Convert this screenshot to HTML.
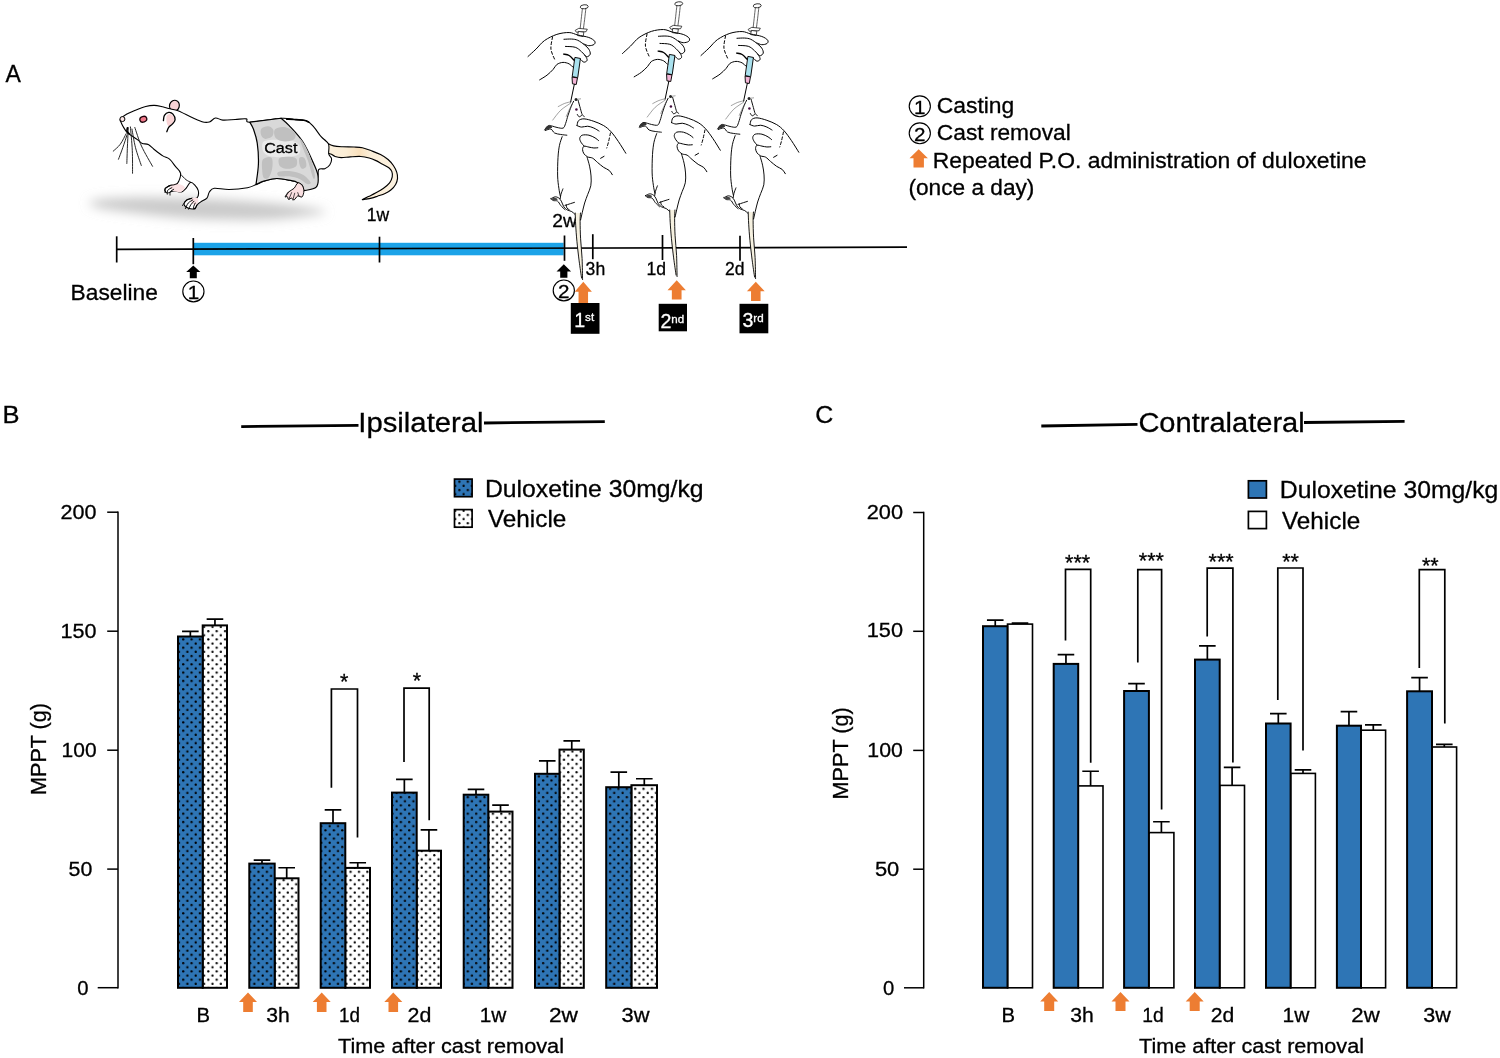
<!DOCTYPE html>
<html><head><meta charset="utf-8"><title>Figure</title>
<style>html,body{margin:0;padding:0;background:#fff}svg{display:block}</style></head>
<body>
<svg width="1500" height="1058" viewBox="0 0 1500 1058" font-family="'Liberation Sans', Arial, Helvetica, sans-serif" fill="#000" stroke-width="0">
<defs>
<pattern id="dots" x="206.2" y="629.03" width="8.37" height="8.3" patternUnits="userSpaceOnUse">
<circle cx="2.1" cy="2.07" r="1.15" fill="#000"/><circle cx="6.28" cy="6.22" r="1.15" fill="#000"/>
</pattern>
<filter id="blur" x="-20%" y="-60%" width="140%" height="220%"><feGaussianBlur stdDeviation="5.5"/></filter>
<filter id="soft" filterUnits="userSpaceOnUse" x="0" y="0" width="1500" height="1058"><feGaussianBlur stdDeviation="0.4"/></filter>
</defs>
<rect width="1500" height="1058" fill="#fff"/>
<g filter="url(#soft)">
<g stroke="#000" stroke-width="1.5" fill="none">
<path d="M118,511.45 V988.55"/>
<path d="M107.2,512.2 H118"/>
<path d="M107.2,631.2 H118"/>
<path d="M107.2,750.2 H118"/>
<path d="M107.2,869.1 H118"/>
<path d="M97.7,987.7 H118"/>
</g>
<text x="96.6" y="519" font-size="20.3" text-anchor="end" textLength="36" lengthAdjust="spacingAndGlyphs" stroke="#000" stroke-width="0.3">200</text>
<text x="96.6" y="638.2" font-size="20.3" text-anchor="end" textLength="36" lengthAdjust="spacingAndGlyphs" stroke="#000" stroke-width="0.3">150</text>
<text x="96.6" y="756.5" font-size="20.3" text-anchor="end" textLength="35" lengthAdjust="spacingAndGlyphs" stroke="#000" stroke-width="0.3">100</text>
<text x="92.3" y="875.6" font-size="20.3" text-anchor="end" textLength="23.8" lengthAdjust="spacingAndGlyphs" stroke="#000" stroke-width="0.3">50</text>
<text x="88.6" y="994.6" font-size="20.3" text-anchor="end" stroke="#000" stroke-width="0.3">0</text>
<path d="M190.35,636.5 V631.45 M182.05,631.45 H198.65" stroke="#000" stroke-width="1.7" fill="none"/>
<path d="M214.95,625.4 V619.05 M206.65,619.05 H223.25" stroke="#000" stroke-width="1.7" fill="none"/>
<rect x="202.7" y="625.4" width="24.3" height="362.4" fill="#fff" stroke="none"/>
<rect x="202.7" y="625.4" width="24.3" height="362.4" fill="url(#dots)"/>
<rect x="202.7" y="625.4" width="24.3" height="362.4" fill="none" stroke="#000" stroke-width="2"/>
<rect x="178" y="636.5" width="24.7" height="351.3" fill="#2E74B5"/>
<rect x="178" y="636.5" width="24.7" height="351.3" fill="url(#dots)"/>
<rect x="178" y="636.5" width="24.7" height="351.3" fill="none" stroke="#000" stroke-width="2"/>
<path d="M262,863.6 V860.05 M253.7,860.05 H270.3" stroke="#000" stroke-width="1.7" fill="none"/>
<path d="M286.7,878.3 V867.75 M278.4,867.75 H295" stroke="#000" stroke-width="1.7" fill="none"/>
<rect x="274.7" y="878.3" width="23.8" height="109.5" fill="#fff" stroke="none"/>
<rect x="274.7" y="878.3" width="23.8" height="109.5" fill="url(#dots)"/>
<rect x="274.7" y="878.3" width="23.8" height="109.5" fill="none" stroke="#000" stroke-width="2"/>
<rect x="249.3" y="863.6" width="25.4" height="124.2" fill="#2E74B5"/>
<rect x="249.3" y="863.6" width="25.4" height="124.2" fill="url(#dots)"/>
<rect x="249.3" y="863.6" width="25.4" height="124.2" fill="none" stroke="#000" stroke-width="2"/>
<path d="M333,823.2 V809.85 M324.7,809.85 H341.3" stroke="#000" stroke-width="1.7" fill="none"/>
<path d="M357.75,867.9 V862.75 M349.45,862.75 H366.05" stroke="#000" stroke-width="1.7" fill="none"/>
<rect x="345.3" y="867.9" width="24.7" height="119.9" fill="#fff" stroke="none"/>
<rect x="345.3" y="867.9" width="24.7" height="119.9" fill="url(#dots)"/>
<rect x="345.3" y="867.9" width="24.7" height="119.9" fill="none" stroke="#000" stroke-width="2"/>
<rect x="320.7" y="823.2" width="24.6" height="164.6" fill="#2E74B5"/>
<rect x="320.7" y="823.2" width="24.6" height="164.6" fill="url(#dots)"/>
<rect x="320.7" y="823.2" width="24.6" height="164.6" fill="none" stroke="#000" stroke-width="2"/>
<path d="M404.35,792.6 V779.45 M396.05,779.45 H412.65" stroke="#000" stroke-width="1.7" fill="none"/>
<path d="M428.95,850.7 V829.85 M420.65,829.85 H437.25" stroke="#000" stroke-width="1.7" fill="none"/>
<rect x="416.7" y="850.7" width="24.3" height="137.1" fill="#fff" stroke="none"/>
<rect x="416.7" y="850.7" width="24.3" height="137.1" fill="url(#dots)"/>
<rect x="416.7" y="850.7" width="24.3" height="137.1" fill="none" stroke="#000" stroke-width="2"/>
<rect x="392" y="792.6" width="24.7" height="195.2" fill="#2E74B5"/>
<rect x="392" y="792.6" width="24.7" height="195.2" fill="url(#dots)"/>
<rect x="392" y="792.6" width="24.7" height="195.2" fill="none" stroke="#000" stroke-width="2"/>
<path d="M476,794.7 V789.45 M467.7,789.45 H484.3" stroke="#000" stroke-width="1.7" fill="none"/>
<path d="M500.5,811.6 V805.05 M492.2,805.05 H508.8" stroke="#000" stroke-width="1.7" fill="none"/>
<rect x="488.3" y="811.6" width="24.2" height="176.2" fill="#fff" stroke="none"/>
<rect x="488.3" y="811.6" width="24.2" height="176.2" fill="url(#dots)"/>
<rect x="488.3" y="811.6" width="24.2" height="176.2" fill="none" stroke="#000" stroke-width="2"/>
<rect x="463.7" y="794.7" width="24.6" height="193.1" fill="#2E74B5"/>
<rect x="463.7" y="794.7" width="24.6" height="193.1" fill="url(#dots)"/>
<rect x="463.7" y="794.7" width="24.6" height="193.1" fill="none" stroke="#000" stroke-width="2"/>
<path d="M547.25,773.8 V760.85 M538.95,760.85 H555.55" stroke="#000" stroke-width="1.7" fill="none"/>
<path d="M571.75,749.6 V740.85 M563.45,740.85 H580.05" stroke="#000" stroke-width="1.7" fill="none"/>
<rect x="559.5" y="749.6" width="24.3" height="238.2" fill="#fff" stroke="none"/>
<rect x="559.5" y="749.6" width="24.3" height="238.2" fill="url(#dots)"/>
<rect x="559.5" y="749.6" width="24.3" height="238.2" fill="none" stroke="#000" stroke-width="2"/>
<rect x="535" y="773.8" width="24.5" height="214" fill="#2E74B5"/>
<rect x="535" y="773.8" width="24.5" height="214" fill="url(#dots)"/>
<rect x="535" y="773.8" width="24.5" height="214" fill="none" stroke="#000" stroke-width="2"/>
<path d="M618.8,787.2 V772.15 M610.5,772.15 H627.1" stroke="#000" stroke-width="1.7" fill="none"/>
<path d="M644.3,785.2 V778.75 M636,778.75 H652.6" stroke="#000" stroke-width="1.7" fill="none"/>
<rect x="631.4" y="785.2" width="25.6" height="202.6" fill="#fff" stroke="none"/>
<rect x="631.4" y="785.2" width="25.6" height="202.6" fill="url(#dots)"/>
<rect x="631.4" y="785.2" width="25.6" height="202.6" fill="none" stroke="#000" stroke-width="2"/>
<rect x="606.2" y="787.2" width="25.2" height="200.6" fill="#2E74B5"/>
<rect x="606.2" y="787.2" width="25.2" height="200.6" fill="url(#dots)"/>
<rect x="606.2" y="787.2" width="25.2" height="200.6" fill="none" stroke="#000" stroke-width="2"/>
<path d="M331.4,787.7 V689 H357.5 V837.4" stroke="#000" stroke-width="1.7" fill="none"/>
<text x="344.1" y="689.4" font-size="21.5" text-anchor="middle" stroke="#000" stroke-width="0.3">*</text>
<path d="M404,762 V688.1 H429.2 V820.2" stroke="#000" stroke-width="1.7" fill="none"/>
<text x="417" y="688.4" font-size="21.5" text-anchor="middle" stroke="#000" stroke-width="0.3">*</text>
<text x="203.3" y="1022" font-size="20.3" text-anchor="middle" stroke="#000" stroke-width="0.3">B</text>
<text x="278" y="1022" font-size="20.3" text-anchor="middle" textLength="23.5" lengthAdjust="spacingAndGlyphs" stroke="#000" stroke-width="0.3">3h</text>
<text x="349.6" y="1022" font-size="20.3" text-anchor="middle" textLength="21" lengthAdjust="spacingAndGlyphs" stroke="#000" stroke-width="0.3">1d</text>
<text x="419.4" y="1022" font-size="20.3" text-anchor="middle" textLength="23.8" lengthAdjust="spacingAndGlyphs" stroke="#000" stroke-width="0.3">2d</text>
<text x="493" y="1022" font-size="20.3" text-anchor="middle" textLength="26.6" lengthAdjust="spacingAndGlyphs" stroke="#000" stroke-width="0.3">1w</text>
<text x="563.4" y="1022" font-size="20.3" text-anchor="middle" textLength="29" lengthAdjust="spacingAndGlyphs" stroke="#000" stroke-width="0.3">2w</text>
<text x="635.6" y="1022" font-size="20.3" text-anchor="middle" textLength="28" lengthAdjust="spacingAndGlyphs" stroke="#000" stroke-width="0.3">3w</text>
<text x="338" y="1052.5" font-size="20" textLength="226" lengthAdjust="spacingAndGlyphs" stroke="#000" stroke-width="0.3">Time after cast removal</text>
<polygon points="248,992.6 257,1002 252.8,1002 252.8,1012 243.2,1012 243.2,1002 239,1002" fill="#ED7D31"/>
<polygon points="321.7,992.6 330.7,1002 326.5,1002 326.5,1012 316.9,1012 316.9,1002 312.7,1002" fill="#ED7D31"/>
<polygon points="393.3,992.6 402.3,1002 398.1,1002 398.1,1012 388.5,1012 388.5,1002 384.3,1002" fill="#ED7D31"/>
<text transform="translate(45.8,795) rotate(-90)" font-size="21.4" textLength="92" lengthAdjust="spacingAndGlyphs" stroke="#000" stroke-width="0.3">MPPT (g)</text>
<text x="358.3" y="431.8" font-size="28.4" textLength="125.3" lengthAdjust="spacingAndGlyphs" stroke="#000" stroke-width="0.3">Ipsilateral</text>
<path d="M241.2,426.6 L358.5,425.3 M484,423 L604.8,421.7" stroke="#000" stroke-width="2.8" fill="none"/>
<text x="2.4" y="422.8" font-size="23.2" textLength="17" lengthAdjust="spacingAndGlyphs" stroke="#000" stroke-width="0.3">B</text>
<rect x="454.5" y="479.1" width="17.6" height="17.6" fill="#2E74B5"/><rect x="454.5" y="479.1" width="17.6" height="17.6" fill="url(#dots)"/><rect x="454.5" y="479.1" width="17.6" height="17.6" fill="none" stroke="#000" stroke-width="1.7"/>
<rect x="454.5" y="509.6" width="17.6" height="17.6" fill="#fff"/><rect x="454.5" y="509.6" width="17.6" height="17.6" fill="url(#dots)"/><rect x="454.5" y="509.6" width="17.6" height="17.6" fill="none" stroke="#000" stroke-width="1.7"/>
<text x="485" y="496.6" font-size="23.2" textLength="218.5" lengthAdjust="spacingAndGlyphs" stroke="#000" stroke-width="0.3">Duloxetine 30mg/kg</text>
<text x="488" y="527.2" font-size="23.2" textLength="78.3" lengthAdjust="spacingAndGlyphs" stroke="#000" stroke-width="0.3">Vehicle</text>
<g stroke="#000" stroke-width="1.5" fill="none">
<path d="M923.7,511.75 V988.55"/>
<path d="M913.2,512.5 H923.7"/>
<path d="M913.2,631.3 H923.7"/>
<path d="M913.2,750.4 H923.7"/>
<path d="M913.2,869.2 H923.7"/>
<path d="M904,987.8 H923.7"/>
</g>
<text x="903" y="518.6" font-size="20.3" text-anchor="end" textLength="36.3" lengthAdjust="spacingAndGlyphs" stroke="#000" stroke-width="0.3">200</text>
<text x="903" y="637" font-size="20.3" text-anchor="end" textLength="36.3" lengthAdjust="spacingAndGlyphs" stroke="#000" stroke-width="0.3">150</text>
<text x="902.8" y="756.5" font-size="20.3" text-anchor="end" textLength="35.5" lengthAdjust="spacingAndGlyphs" stroke="#000" stroke-width="0.3">100</text>
<text x="899.3" y="875.6" font-size="20.3" text-anchor="end" textLength="24.4" lengthAdjust="spacingAndGlyphs" stroke="#000" stroke-width="0.3">50</text>
<text x="894.3" y="994.6" font-size="20.3" text-anchor="end" stroke="#000" stroke-width="0.3">0</text>
<path d="M995.25,626.2 V620.05 M986.95,620.05 H1003.55" stroke="#000" stroke-width="1.7" fill="none"/>
<path d="M1020,624.3 V623.15 M1011.7,623.15 H1028.3" stroke="#000" stroke-width="1.7" fill="none"/>
<rect x="1007.5" y="624.1" width="25" height="363.7" fill="#fff" stroke="none"/>
<rect x="1007.5" y="624.1" width="25" height="363.7" fill="none" stroke="#000" stroke-width="1.6"/>
<rect x="983" y="626.2" width="24.5" height="361.6" fill="#2E74B5"/>
<rect x="983" y="626.2" width="24.5" height="361.6" fill="none" stroke="#000" stroke-width="2"/>
<path d="M1065.95,663.9 V654.65 M1057.65,654.65 H1074.25" stroke="#000" stroke-width="1.7" fill="none"/>
<path d="M1090.6,786.1 V771.25 M1082.3,771.25 H1098.9" stroke="#000" stroke-width="1.7" fill="none"/>
<rect x="1078.2" y="785.9" width="24.8" height="201.9" fill="#fff" stroke="none"/>
<rect x="1078.2" y="785.9" width="24.8" height="201.9" fill="none" stroke="#000" stroke-width="1.6"/>
<rect x="1053.7" y="663.9" width="24.5" height="323.9" fill="#2E74B5"/>
<rect x="1053.7" y="663.9" width="24.5" height="323.9" fill="none" stroke="#000" stroke-width="2"/>
<path d="M1136.5,691 V683.65 M1128.2,683.65 H1144.8" stroke="#000" stroke-width="1.7" fill="none"/>
<path d="M1161.4,832.8 V821.75 M1153.1,821.75 H1169.7" stroke="#000" stroke-width="1.7" fill="none"/>
<rect x="1148.9" y="832.6" width="25" height="155.2" fill="#fff" stroke="none"/>
<rect x="1148.9" y="832.6" width="25" height="155.2" fill="none" stroke="#000" stroke-width="1.6"/>
<rect x="1124.1" y="691" width="24.8" height="296.8" fill="#2E74B5"/>
<rect x="1124.1" y="691" width="24.8" height="296.8" fill="none" stroke="#000" stroke-width="2"/>
<path d="M1207.35,659.6 V645.85 M1199.05,645.85 H1215.65" stroke="#000" stroke-width="1.7" fill="none"/>
<path d="M1232.1,785.6 V767.45 M1223.8,767.45 H1240.4" stroke="#000" stroke-width="1.7" fill="none"/>
<rect x="1219.7" y="785.4" width="24.8" height="202.4" fill="#fff" stroke="none"/>
<rect x="1219.7" y="785.4" width="24.8" height="202.4" fill="none" stroke="#000" stroke-width="1.6"/>
<rect x="1195" y="659.6" width="24.7" height="328.2" fill="#2E74B5"/>
<rect x="1195" y="659.6" width="24.7" height="328.2" fill="none" stroke="#000" stroke-width="2"/>
<path d="M1278.3,723.5 V713.55 M1270,713.55 H1286.6" stroke="#000" stroke-width="1.7" fill="none"/>
<path d="M1303,773.6 V769.85 M1294.7,769.85 H1311.3" stroke="#000" stroke-width="1.7" fill="none"/>
<rect x="1290.6" y="773.4" width="24.8" height="214.4" fill="#fff" stroke="none"/>
<rect x="1290.6" y="773.4" width="24.8" height="214.4" fill="none" stroke="#000" stroke-width="1.6"/>
<rect x="1266" y="723.5" width="24.6" height="264.3" fill="#2E74B5"/>
<rect x="1266" y="723.5" width="24.6" height="264.3" fill="none" stroke="#000" stroke-width="2"/>
<path d="M1348.95,725.7 V711.65 M1340.65,711.65 H1357.25" stroke="#000" stroke-width="1.7" fill="none"/>
<path d="M1373.3,730.4 V724.85 M1365,724.85 H1381.6" stroke="#000" stroke-width="1.7" fill="none"/>
<rect x="1361" y="730.2" width="24.6" height="257.6" fill="#fff" stroke="none"/>
<rect x="1361" y="730.2" width="24.6" height="257.6" fill="none" stroke="#000" stroke-width="1.6"/>
<rect x="1336.9" y="725.7" width="24.1" height="262.1" fill="#2E74B5"/>
<rect x="1336.9" y="725.7" width="24.1" height="262.1" fill="none" stroke="#000" stroke-width="2"/>
<path d="M1419.55,691.3 V677.55 M1411.25,677.55 H1427.85" stroke="#000" stroke-width="1.7" fill="none"/>
<path d="M1444.3,747.2 V744.35 M1436,744.35 H1452.6" stroke="#000" stroke-width="1.7" fill="none"/>
<rect x="1432" y="747" width="24.6" height="240.8" fill="#fff" stroke="none"/>
<rect x="1432" y="747" width="24.6" height="240.8" fill="none" stroke="#000" stroke-width="1.6"/>
<rect x="1407.1" y="691.3" width="24.9" height="296.5" fill="#2E74B5"/>
<rect x="1407.1" y="691.3" width="24.9" height="296.5" fill="none" stroke="#000" stroke-width="2"/>
<path d="M1065.5,640.4 V569.3 H1090.7 V762.8" stroke="#000" stroke-width="1.7" fill="none"/>
<text x="1077.6" y="570.4" font-size="21.5" text-anchor="middle" stroke="#000" stroke-width="0.3">***</text>
<path d="M1137.8,662.5 V569.7 H1161.6 V809.5" stroke="#000" stroke-width="1.7" fill="none"/>
<text x="1151.4" y="567.8" font-size="21.5" text-anchor="middle" stroke="#000" stroke-width="0.3">***</text>
<path d="M1207.2,636.4 V568.2 H1232.9 V762.4" stroke="#000" stroke-width="1.7" fill="none"/>
<text x="1221.1" y="569.2" font-size="21.5" text-anchor="middle" stroke="#000" stroke-width="0.3">***</text>
<path d="M1277.8,700 V568 H1303 V750.5" stroke="#000" stroke-width="1.7" fill="none"/>
<text x="1290.6" y="569.2" font-size="21.5" text-anchor="middle" stroke="#000" stroke-width="0.3">**</text>
<path d="M1419.3,668 V569.7 H1444.8 V723.6" stroke="#000" stroke-width="1.7" fill="none"/>
<text x="1430.3" y="572.5" font-size="21.5" text-anchor="middle" stroke="#000" stroke-width="0.3">**</text>
<text x="1008.3" y="1022" font-size="20.3" text-anchor="middle" stroke="#000" stroke-width="0.3">B</text>
<text x="1082" y="1022" font-size="20.3" text-anchor="middle" textLength="23.5" lengthAdjust="spacingAndGlyphs" stroke="#000" stroke-width="0.3">3h</text>
<text x="1153" y="1022" font-size="20.3" text-anchor="middle" textLength="21.5" lengthAdjust="spacingAndGlyphs" stroke="#000" stroke-width="0.3">1d</text>
<text x="1222.5" y="1022" font-size="20.3" text-anchor="middle" textLength="23.5" lengthAdjust="spacingAndGlyphs" stroke="#000" stroke-width="0.3">2d</text>
<text x="1296" y="1022" font-size="20.3" text-anchor="middle" textLength="26.8" lengthAdjust="spacingAndGlyphs" stroke="#000" stroke-width="0.3">1w</text>
<text x="1365.5" y="1022" font-size="20.3" text-anchor="middle" textLength="28.4" lengthAdjust="spacingAndGlyphs" stroke="#000" stroke-width="0.3">2w</text>
<text x="1437" y="1022" font-size="20.3" text-anchor="middle" textLength="27.5" lengthAdjust="spacingAndGlyphs" stroke="#000" stroke-width="0.3">3w</text>
<text x="1139" y="1052.5" font-size="20" textLength="225" lengthAdjust="spacingAndGlyphs" stroke="#000" stroke-width="0.3">Time after cast removal</text>
<polygon points="1049.2,992 1058.2,1001.4 1054.2,1001.4 1054.2,1010.9 1044.2,1010.9 1044.2,1001.4 1040.2,1001.4" fill="#ED7D31"/>
<polygon points="1120.5,992 1129.5,1001.4 1125.5,1001.4 1125.5,1010.9 1115.5,1010.9 1115.5,1001.4 1111.5,1001.4" fill="#ED7D31"/>
<polygon points="1194.7,992 1203.7,1001.4 1199.7,1001.4 1199.7,1010.9 1189.7,1010.9 1189.7,1001.4 1185.7,1001.4" fill="#ED7D31"/>
<text transform="translate(847.9,799.4) rotate(-90)" font-size="21.4" textLength="92" lengthAdjust="spacingAndGlyphs" stroke="#000" stroke-width="0.3">MPPT (g)</text>
<text x="1138.4" y="431.6" font-size="28.4" textLength="166.3" lengthAdjust="spacingAndGlyphs" stroke="#000" stroke-width="0.3">Contralateral</text>
<path d="M1041.3,426 L1137.5,424.3 M1304,422.5 L1404.6,421.3" stroke="#000" stroke-width="2.8" fill="none"/>
<text x="815.2" y="423" font-size="23" textLength="18" lengthAdjust="spacingAndGlyphs" stroke="#000" stroke-width="0.3">C</text>
<rect x="1248.4" y="480.8" width="18" height="17.2" fill="#2E74B5" stroke="#000" stroke-width="1.7"/>
<rect x="1248.4" y="511.4" width="18" height="17.2" fill="#fff" stroke="#000" stroke-width="1.7"/>
<text x="1279.8" y="498.3" font-size="23.2" textLength="218.5" lengthAdjust="spacingAndGlyphs" stroke="#000" stroke-width="0.3">Duloxetine 30mg/kg</text>
<text x="1282" y="528.6" font-size="23.2" textLength="78.3" lengthAdjust="spacingAndGlyphs" stroke="#000" stroke-width="0.3">Vehicle</text>
<text x="5.5" y="81.7" font-size="23" stroke="#000" stroke-width="0.3">A</text>
<path d="M92,201 C97.67,199.42 112,197.92 130,197.5 C148,197.08 178.33,197.75 200,198.5 C221.67,199.25 242.5,200.58 260,202 C277.5,203.42 294,205.33 305,207 C316,208.67 326,210.5 326,212 C326,213.5 316,214.67 305,216 C294,217.33 279.17,219.58 260,220 C240.83,220.42 211.67,219.75 190,218.5 C168.33,217.25 145.67,214.42 130,212.5 C114.33,210.58 102.33,208.92 96,207 C89.67,205.08 86.33,202.58 92,201Z" fill="#cacaca" filter="url(#blur)"/>
<defs><linearGradient id="tailg" x1="0" x2="1" y1="0" y2="0"><stop offset="0" stop-color="#FCF2E0"/><stop offset="0.3" stop-color="#FBEDD5"/><stop offset="0.48" stop-color="#F9E0BC"/><stop offset="0.62" stop-color="#FBEED8"/><stop offset="1" stop-color="#FCF2E1"/></linearGradient></defs>
<path d="M324.54,140.59 C324.79,139.01 326.05,142.36 327.56,143.24 C329.08,144.12 331.09,145.29 333.62,145.89 C336.14,146.48 339.29,146.6 342.69,146.79 C346.1,146.98 350.76,146.86 354.04,147.02 C357.32,147.18 359.46,147.15 362.36,147.78 C365.26,148.41 368.41,149.67 371.44,150.8 C374.46,151.94 377.74,153.13 380.51,154.58 C383.29,156.03 385.94,157.67 388.08,159.5 C390.22,161.33 391.92,163.41 393.37,165.55 C394.82,167.7 396.08,170.22 396.78,172.36 C397.47,174.5 397.72,176.39 397.53,178.41 C397.34,180.43 396.71,182.57 395.64,184.46 C394.57,186.35 392.87,188.25 391.1,189.76 C389.34,191.27 387.32,192.47 385.05,193.54 C382.78,194.61 379.76,195.43 377.49,196.19 C375.22,196.94 373.45,197.57 371.44,198.08 C369.42,198.58 366.9,198.96 365.39,199.21 C363.87,199.47 361.86,200.03 362.36,199.59 C362.86,199.15 366.14,197.7 368.41,196.57 C370.68,195.43 373.45,194.17 375.98,192.78 C378.5,191.4 381.27,189.88 383.54,188.25 C385.81,186.61 388.14,184.84 389.59,182.95 C391.04,181.06 391.86,178.79 392.24,176.9 C392.62,175.01 392.43,173.12 391.86,171.6 C391.29,170.09 390.47,169.08 388.84,167.82 C387.2,166.56 384.17,165.24 382.03,164.04 C379.88,162.84 378.12,161.64 375.98,160.64 C373.83,159.63 371.69,158.68 369.17,157.99 C366.65,157.29 364,156.66 360.85,156.48 C357.7,156.29 353.54,156.66 350.26,156.85 C346.98,157.04 343.7,157.67 341.18,157.61 C338.66,157.55 336.77,157.04 335.13,156.48 C333.49,155.91 332.38,154.68 331.35,154.21 C330.31,153.73 329.81,153.85 328.93,153.6 C328.04,153.35 326.78,154.86 326.05,152.69 C325.32,150.52 324.29,142.17 324.54,140.59Z" fill="url(#tailg)" stroke="#000" stroke-width="1.15" stroke-linejoin="round" stroke-linecap="round"/>
<ellipse cx="174.39" cy="105.72" rx="4.9" ry="5.5" fill="#F9D3D5" stroke="#000" stroke-width="1.2" transform="rotate(18 174.39 105.72)"/>
<path d="M120.28,119.25 C120.99,118.04 122.78,116.44 125.31,114.95 C127.85,113.45 132.11,111.69 135.51,110.28 C138.91,108.86 142.6,107.29 145.71,106.47 C148.83,105.65 151.37,105.3 154.19,105.36 C157.02,105.42 160.24,106.3 162.67,106.84 C165.11,107.37 166.26,107.9 168.82,108.56 C171.38,109.21 175.17,109.76 178.03,110.77 C180.9,111.77 182.03,112.75 186.02,114.58 C190.02,116.4 198.11,120.48 202,121.71 C205.89,122.93 207.12,122.57 209.37,121.95 C211.62,121.34 213.26,118.33 215.51,118.02 C217.77,117.71 219.61,119.86 222.89,120.11 C226.16,120.35 231.29,119.7 235.18,119.49 C239.07,119.29 243.8,118.43 246.24,118.88 C248.67,119.33 243.98,122.3 249.8,122.2 C255.62,122.09 273.79,118.71 281.17,118.26 C288.55,117.81 289.87,119.08 294.07,119.49 C298.27,119.9 303.08,119.49 306.36,120.72 C309.64,121.95 311.27,124.2 313.73,126.87 C316.19,129.53 318.65,133.83 321.11,136.7 C323.56,139.56 327.21,141.2 328.48,144.07 C329.75,146.94 328.21,151.44 328.73,153.9 C329.24,156.36 331.39,156.97 331.55,158.82 C331.72,160.66 330.83,163.32 329.71,164.96 C328.58,166.6 326.64,167.87 324.79,168.65 C322.95,169.43 319.88,167.99 318.65,169.63 C317.42,171.27 319.06,176.19 317.42,178.48 C315.78,180.77 312.91,182.99 308.82,183.39 C304.72,183.8 298.17,181.76 292.84,180.94 C287.52,180.12 281.58,178.48 276.87,178.48 C272.16,178.48 268.06,179.91 264.58,180.94 C261.1,181.96 258.83,183.5 255.98,184.62 C253.12,185.75 251.96,186.88 247.47,187.7 C242.97,188.52 234.56,189.44 229.03,189.54 C223.5,189.64 217.56,187.9 214.29,188.31 C211.01,188.72 210.6,190.36 209.37,192 C208.14,193.64 208.35,196.5 206.91,198.14 C205.48,199.78 202.41,200.7 200.77,201.83 C199.13,202.95 198.11,203.77 197.08,204.9 C196.06,206.03 196.06,208.03 194.62,208.59 C193.19,209.14 190.22,208.83 188.48,208.22 C186.74,207.6 184.49,206.27 184.18,204.9 C183.87,203.53 185.41,201.07 186.64,199.98 C187.86,198.9 189.81,198.74 191.55,198.39 C193.29,198.04 195.95,199.17 197.08,197.9 C198.21,196.63 198.72,192.94 198.31,190.77 C197.9,188.6 195.95,186.26 194.62,184.87 C193.29,183.48 191.76,181.84 190.32,182.41 C188.89,182.99 187.56,186.71 186.02,188.31 C184.49,189.91 183.15,191.55 181.11,192 C179.06,192.45 176.09,190.85 173.73,191.01 C171.38,191.18 168.45,193.33 166.97,192.98 C165.5,192.63 164.37,190.15 164.88,188.92 C165.4,187.7 167.96,186.53 170.05,185.61 C172.14,184.69 175.66,185.44 177.42,183.39 C179.18,181.35 180.94,176.14 180.61,173.32 C180.29,170.49 177.3,168.79 175.45,166.44 C173.61,164.08 171.66,160.95 169.55,159.19 C167.44,157.42 165.36,157.49 162.8,155.87 C160.24,154.25 156.61,151.36 154.19,149.48 C151.78,147.59 150.28,145.57 148.29,144.56 C146.31,143.56 143.97,144.19 142.27,143.46 C140.57,142.72 140.06,141.55 138.1,140.14 C136.13,138.73 132.32,136.27 130.48,134.98 C128.63,133.69 128.18,133.67 127.04,132.4 C125.89,131.13 124.6,129.06 123.59,127.36 C122.59,125.66 121.57,123.55 121.01,122.2 C120.46,120.84 119.56,120.46 120.28,119.25Z" fill="#fff" stroke="#000" stroke-width="1.08" stroke-linejoin="round" stroke-linecap="round"/>
<path d="M286.7,119.25 C287.93,119.29 291.2,119.33 294.07,119.49 C296.94,119.66 301.44,119.78 303.9,120.23 C306.36,120.68 308,121.87 308.82,122.2" fill="none" stroke="#000" stroke-width="1.6" stroke-linejoin="round" stroke-linecap="round"/>
<path d="M249.83,122.2 L281.17,118.26 L281.17,118.26 C282.5,119.49 285.57,121.75 289.16,125.64 C292.74,129.53 298.58,135.26 302.67,141.61 C306.77,147.96 311.17,158 313.73,163.73 C316.29,169.47 317.62,172.13 318.03,176.02 C318.44,179.91 318.55,184.62 316.19,187.08 C313.84,189.54 305.95,190.15 303.9,190.77 L303.9,190.77 C303.59,189.85 303.08,186.57 302.06,185.24 C301.03,183.91 299.29,183.5 297.76,182.78 C296.22,182.06 296.32,181.65 292.84,180.94 C289.36,180.22 281.58,178.48 276.87,178.48 C272.16,178.48 268.06,179.91 264.58,180.94 C261.1,181.96 257.41,184.01 255.98,184.62 L255.98,184.62 C256.39,181.14 258.23,170.7 258.43,163.73 C258.64,156.77 258.02,148.58 257.2,142.84 C256.39,137.11 254.75,132.76 253.52,129.32 C252.29,125.88 250.45,123.38 249.83,122.2Z" fill="#D9D9D9" stroke="#000" stroke-width="1.2" stroke-linejoin="round" stroke-linecap="round"/>
<clipPath id="castclip"><path d="M249.83,122.2 L281.17,118.26 L281.17,118.26 C282.5,119.49 285.57,121.75 289.16,125.64 C292.74,129.53 298.58,135.26 302.67,141.61 C306.77,147.96 311.17,158 313.73,163.73 C316.29,169.47 317.62,172.13 318.03,176.02 C318.44,179.91 318.55,184.62 316.19,187.08 C313.84,189.54 305.95,190.15 303.9,190.77 L303.9,190.77 C303.59,189.85 303.08,186.57 302.06,185.24 C301.03,183.91 299.29,183.5 297.76,182.78 C296.22,182.06 296.32,181.65 292.84,180.94 C289.36,180.22 281.58,178.48 276.87,178.48 C272.16,178.48 268.06,179.91 264.58,180.94 C261.1,181.96 257.41,184.01 255.98,184.62 L255.98,184.62 C256.39,181.14 258.23,170.7 258.43,163.73 C258.64,156.77 258.02,148.58 257.2,142.84 C256.39,137.11 254.75,132.76 253.52,129.32 C252.29,125.88 250.45,123.38 249.83,122.2Z"/></clipPath>
<filter id="pb" x="-20%" y="-20%" width="140%" height="140%"><feGaussianBlur stdDeviation="0.7"/></filter>
<g clip-path="url(#castclip)"><g filter="url(#pb)">
<path d="M262.97,142.32 C264.67,140.2 269.35,140.06 274.03,139.77 C278.7,139.49 286.78,139.63 291.04,140.62 C295.29,141.62 298.27,143.46 299.54,145.73 C300.82,147.99 300.68,152.39 298.69,154.23 C296.71,156.08 292.03,156.36 287.64,156.78 C283.24,157.21 276.29,157.49 272.32,156.78 C268.35,156.08 265.38,154.94 263.82,152.53 C262.26,150.12 261.27,144.45 262.97,142.32Z" fill="#EBEBEB"/>
<path d="M261.27,128.71 C262.4,127.15 266.09,126.02 268.07,126.16 C270.06,126.3 272.47,127.86 273.17,129.56 C273.88,131.27 273.6,134.81 272.32,136.37 C271.05,137.93 267.36,139.06 265.52,138.92 C263.68,138.78 261.97,137.22 261.27,135.52 C260.56,133.82 260.13,130.27 261.27,128.71Z" fill="#C0C0C0"/>
<path d="M274.88,129.56 C276.29,127.72 280.97,126.59 284.23,127.01 C287.49,127.44 292.74,130.13 294.44,132.12 C296.14,134.1 296.14,137.36 294.44,138.92 C292.74,140.48 287.35,141.62 284.23,141.47 C281.11,141.33 277.29,140.06 275.73,138.07 C274.17,136.09 273.46,131.41 274.88,129.56Z" fill="#C0C0C0"/>
<path d="M279.13,158.49 C280.4,156.93 284.8,156.78 287.64,156.78 C290.47,156.78 294.72,156.93 296.14,158.49 C297.56,160.05 297.56,164.44 296.14,166.14 C294.72,167.84 290.33,168.69 287.64,168.69 C284.94,168.69 281.4,167.84 279.98,166.14 C278.56,164.44 277.85,160.05 279.13,158.49Z" fill="#C0C0C0"/>
<path d="M299.54,157.64 C300.39,156.64 303.51,157.07 304.65,158.49 C305.78,159.9 306.77,164.44 306.35,166.14 C305.92,167.84 303.23,168.98 302.1,168.69 C300.96,168.41 299.97,166.28 299.54,164.44 C299.12,162.6 298.69,158.63 299.54,157.64Z" fill="#C0C0C0"/>
<path d="M262.97,159.34 C264.53,157.35 269.91,156.22 271.47,157.64 C273.03,159.05 272.75,164.58 272.32,167.84 C271.9,171.1 270.34,175.5 268.92,177.2 C267.5,178.9 264.95,179.33 263.82,178.05 C262.68,176.77 262.26,172.66 262.12,169.54 C261.97,166.43 261.41,161.32 262.97,159.34Z" fill="#C0C0C0"/>
<path d="M278.28,172.1 C280.26,171.25 286.93,170.82 291.04,171.25 C295.15,171.67 299.69,172.8 302.95,174.65 C306.21,176.49 309.89,180.74 310.6,182.3 C311.31,183.86 309.04,184.57 307.2,184 C305.36,183.44 302.52,180.18 299.54,178.9 C296.57,177.63 292.74,176.77 289.34,176.35 C285.93,175.92 280.97,177.06 279.13,176.35 C277.29,175.64 276.29,172.95 278.28,172.1Z" fill="#C0C0C0"/>
<path d="M299.54,138.07 C299.83,137.36 302.8,140.76 304.65,144.03 C306.49,147.29 308.9,152.53 310.6,157.64 C312.3,162.74 314.43,171.25 314.86,174.65 C315.28,178.05 314.29,180.32 313.15,178.05 C312.02,175.78 309.75,166 308.05,161.04 C306.35,156.08 304.36,152.11 302.95,148.28 C301.53,144.45 299.26,138.78 299.54,138.07Z" fill="#C0C0C0"/>
</g></g>
<text x="264.2" y="153.4" font-size="15.5" textLength="33.2" lengthAdjust="spacingAndGlyphs" stroke="#000" stroke-width="0.3">Cast</text>
<path d="M297.76,182.78 C299.09,182.27 301.03,183.91 302.06,185.24 C303.08,186.57 303.9,188.82 303.9,190.77 C303.9,192.71 303.08,196.05 302.06,196.91 C301.03,197.77 299.09,195.42 297.76,195.93 C296.43,196.44 295.09,199.62 294.07,199.98 C293.05,200.35 292.53,198.24 291.61,198.14 C290.69,198.04 289.26,199.62 288.54,199.37 C287.82,199.12 287.86,197.12 287.31,196.67 C286.76,196.22 285.02,197.44 285.22,196.67 C285.43,195.89 287.07,193.39 288.54,192 C290.02,190.6 292.53,189.85 294.07,188.31 C295.61,186.77 296.43,183.29 297.76,182.78Z" fill="#FADFE1" stroke="#000" stroke-width="0.95" stroke-linejoin="round" stroke-linecap="round"/>
<path d="M288.54,192 L285.71,196.91" fill="none" stroke="#000" stroke-width="0.7" stroke-linejoin="round" stroke-linecap="round"/>
<path d="M291.61,192.61 L288.91,199.12" fill="none" stroke="#000" stroke-width="0.7" stroke-linejoin="round" stroke-linecap="round"/>
<path d="M294.69,193.23 L292.84,199.98" fill="none" stroke="#000" stroke-width="0.7" stroke-linejoin="round" stroke-linecap="round"/>
<path d="M297.76,192.61 L298.99,196.3" fill="none" stroke="#000" stroke-width="0.7" stroke-linejoin="round" stroke-linecap="round"/>
<path d="M170.05,185.61 C171.17,184.83 174.96,183.39 177.42,183.64 C179.88,183.89 184.18,185.69 184.79,187.08 C185.41,188.47 182.95,191.34 181.11,192 C179.26,192.65 175.47,191.63 173.73,191.01 C171.99,190.4 171.27,189.21 170.66,188.31 C170.05,187.41 168.92,186.39 170.05,185.61Z" fill="#FBE2E4" stroke="none" stroke-width="0.9" stroke-linejoin="round" stroke-linecap="round"/>
<path d="M191.55,198.39 C192.58,197.63 195.95,197.42 197.08,197.9 C198.21,198.37 198.62,200.05 198.31,201.21 C198,202.38 196.47,204.7 195.24,204.9 C194.01,205.1 191.55,203.53 190.94,202.44 C190.32,201.36 190.53,199.14 191.55,198.39Z" fill="#FBE2E4" stroke="none" stroke-width="0.9" stroke-linejoin="round" stroke-linecap="round"/>
<path d="M170.05,185.85 C169.33,186.26 166.56,187.18 165.75,188.31 C164.93,189.44 165.23,191.89 165.13,192.61" fill="none" stroke="#000" stroke-width="0.95" stroke-linejoin="round" stroke-linecap="round"/>
<path d="M171.89,187.7 C171.21,188.11 168.59,189.07 167.83,190.15 C167.08,191.24 167.42,193.53 167.34,194.21" fill="none" stroke="#000" stroke-width="0.95" stroke-linejoin="round" stroke-linecap="round"/>
<path d="M173.73,189.29 C173.16,189.7 170.91,190.79 170.29,191.75 C169.68,192.71 170.09,194.52 170.05,195.07" fill="none" stroke="#000" stroke-width="0.95" stroke-linejoin="round" stroke-linecap="round"/>
<path d="M168.82,185.61 C169.64,185.48 172.3,185.2 173.73,184.87 C175.17,184.54 176.8,183.85 177.42,183.64" fill="none" stroke="#000" stroke-width="0.95" stroke-linejoin="round" stroke-linecap="round"/>
<path d="M191.55,198.63 C190.63,198.96 187.52,199.45 186.02,200.6 C184.53,201.75 183.15,204.7 182.58,205.51" fill="none" stroke="#000" stroke-width="0.95" stroke-linejoin="round" stroke-linecap="round"/>
<path d="M192.78,199.98 C192.02,200.5 189.46,201.62 188.23,203.06 C187,204.49 185.88,207.67 185.41,208.59" fill="none" stroke="#000" stroke-width="0.95" stroke-linejoin="round" stroke-linecap="round"/>
<path d="M194.01,201.21 C193.46,201.83 191.57,203.57 190.69,204.9 C189.81,206.23 189.05,208.48 188.73,209.2" fill="none" stroke="#000" stroke-width="0.95" stroke-linejoin="round" stroke-linecap="round"/>
<path d="M195.24,203.06 C194.97,203.67 193.85,205.68 193.64,206.74 C193.44,207.81 193.95,209 194.01,209.45" fill="none" stroke="#000" stroke-width="0.95" stroke-linejoin="round" stroke-linecap="round"/>
<path d="M197.08,204.9 L195.24,208.96" fill="none" stroke="#000" stroke-width="0.95" stroke-linejoin="round" stroke-linecap="round"/>
<path d="M181.11,174.79 C181.93,175.61 184.38,178.44 186.02,179.71 C187.66,180.98 190.12,181.96 190.94,182.41" fill="none" stroke="#000" stroke-width="0.9" stroke-linejoin="round" stroke-linecap="round"/>
<circle cx="122.42" cy="119.07" r="2.5" fill="#FBE6E6" stroke="#000" stroke-width="1"/>
<ellipse cx="143.34" cy="119.24" rx="3.5" ry="2.8" fill="#F0788A" stroke="#1a0508" stroke-width="1.3" transform="rotate(-20 143.34 119.24)"/>
<path d="M166.57,116.27 C167.09,114.73 168.84,113.88 169.97,113.88 C171.1,113.88 172.71,115.16 173.37,116.27 C174.04,117.37 174.25,119.24 173.97,120.52 C173.68,121.79 172.55,123 171.67,123.92 C170.79,124.84 169.5,126.19 168.69,126.05 C167.89,125.91 167.18,124.7 166.82,123.07 C166.47,121.44 166.04,117.8 166.57,116.27Z" fill="#F9D3D5" stroke="none" stroke-width="0.9" stroke-linejoin="round" stroke-linecap="round"/>
<path d="M163.42,120.52 C163.59,119.67 163.56,116.76 164.44,115.42 C165.32,114.07 167.28,112.65 168.69,112.44 C170.11,112.23 171.88,112.93 172.95,114.14 C174.01,115.34 175.14,118.04 175.07,119.67 C175,121.3 173.58,122.65 172.52,123.92 C171.46,125.2 169.64,126.02 168.69,127.32 C167.74,128.63 167.13,131.01 166.82,131.75" fill="none" stroke="#000" stroke-width="1.35" stroke-linejoin="round" stroke-linecap="round"/>
<path d="M126.16,133.7 C125.17,135.48 122.36,141.43 120.21,144.34 C118.05,147.24 114.39,150.01 113.23,151.14" fill="none" stroke="#1c1c1c" stroke-width="0.95" stroke-linejoin="round" stroke-linecap="round"/>
<path d="M127.01,134.98 C126.3,137.11 124.18,143.7 122.76,147.74 C121.34,151.78 119.22,157.31 118.51,159.22" fill="none" stroke="#1c1c1c" stroke-width="0.95" stroke-linejoin="round" stroke-linecap="round"/>
<path d="M128.29,127.75 C128.15,130.8 127.68,140.08 127.44,146.04 C127.2,151.99 126.94,160.57 126.84,163.48" fill="none" stroke="#1c1c1c" stroke-width="0.95" stroke-linejoin="round" stroke-linecap="round"/>
<path d="M130.42,126.9 C130.73,130.8 131.93,142.56 132.29,150.29 C132.64,158.02 132.5,169.43 132.54,173.26" fill="none" stroke="#1c1c1c" stroke-width="0.95" stroke-linejoin="round" stroke-linecap="round"/>
<path d="M131.95,129.03 C132.54,132.14 133.96,141.67 135.52,147.74 C137.08,153.81 140.34,162.48 141.3,165.43" fill="none" stroke="#1c1c1c" stroke-width="0.95" stroke-linejoin="round" stroke-linecap="round"/>
<path d="M134.84,127.49 C135.94,130.58 138.52,139.57 141.47,146.04 C144.42,152.5 150.69,162.91 152.53,166.28" fill="none" stroke="#1c1c1c" stroke-width="0.95" stroke-linejoin="round" stroke-linecap="round"/>
<path d="M127.44,127.75 C127.37,128.32 126.73,130.16 127.01,131.15 C127.3,132.14 128.78,133.28 129.14,133.7" fill="none" stroke="#000" stroke-width="1.7" stroke-linejoin="round" stroke-linecap="round"/>
<rect x="194" y="242.8" width="369.6" height="12.5" fill="#1AA3E8"/>
<g stroke="#000" stroke-width="1.7" fill="none">
<path d="M116.7,249.3 L907,247.2"/>
<path d="M116.7,236.3 V262.5"/>
<path d="M193.3,238 V264.2"/>
<path d="M379.5,236.7 V262.5"/>
<path d="M564.5,235.5 V260.8"/>
<path d="M592.8,234.2 V259.2"/>
<path d="M662.5,235 V260"/>
<path d="M740,235.8 V260.8"/>
</g>
<text x="70.6" y="300" font-size="21.6" textLength="87.2" lengthAdjust="spacingAndGlyphs" stroke="#000" stroke-width="0.3">Baseline</text>
<polygon points="193.3,265.4 200.4,272 196.8,272 196.8,278.3 189.8,278.3 189.8,272 186.2,272" fill="#000"/>
<polygon points="563.8,264.2 571.1,271.6 567.4,271.6 567.4,277.8 560.2,277.8 560.2,271.6 556.5,271.6" fill="#000"/>
<text x="366.8" y="221.3" font-size="17.5" stroke="#000" stroke-width="0.3">1w</text>
<text x="552.3" y="227.3" font-size="18.2" textLength="24.6" lengthAdjust="spacingAndGlyphs" stroke="#000" stroke-width="0.3">2w</text>
<path d="M580.48,212.99 C580.42,214.42 580.09,217.29 580.11,221.58 C580.13,225.88 580.27,232.64 580.6,238.78 C580.93,244.92 581.75,251.63 582.08,258.43 C582.4,265.23 582.49,276.03 582.57,279.56 L581.58,278.08 C581.17,275.22 579.91,267.03 579.13,260.89 C578.35,254.75 577.49,247.17 576.92,241.24 C576.34,235.3 575.98,229.98 575.69,225.27 C575.4,220.56 575.28,215.03 575.2,212.99Z" fill="#F6F1E0" stroke="none" stroke-width="0.9" stroke-linejoin="round" stroke-linecap="round"/>
<path d="M580.48,212.99 C580.42,214.42 580.09,217.29 580.11,221.58 C580.13,225.88 580.27,232.64 580.6,238.78 C580.93,244.92 581.75,251.63 582.08,258.43 C582.4,265.23 582.49,276.03 582.57,279.56" fill="none" stroke="#000" stroke-width="0.9" stroke-linejoin="round" stroke-linecap="round"/>
<path d="M581.58,278.08 C581.17,275.22 579.91,267.03 579.13,260.89 C578.35,254.75 577.49,247.17 576.92,241.24 C576.34,235.3 575.98,229.98 575.69,225.27 C575.4,220.56 575.28,215.03 575.2,212.99" fill="none" stroke="#000" stroke-width="0.9" stroke-linejoin="round" stroke-linecap="round"/>
<path d="M582.39,8.6 C582.19,10.44 581.57,15.97 581.16,19.65 C580.75,23.34 580.14,28.86 579.94,30.7" fill="none" stroke="#222" stroke-width="0.7" stroke-linejoin="round" stroke-linecap="round"/>
<path d="M585.83,8.6 C585.63,10.44 585.05,15.97 584.6,19.65 C584.15,23.34 583.38,28.86 583.13,30.7" fill="none" stroke="#222" stroke-width="0.7" stroke-linejoin="round" stroke-linecap="round"/>
<ellipse cx="584.23" cy="6.76" rx="4" ry="2" fill="#fff" stroke="#111" stroke-width="0.8" transform="rotate(-6 584.23 6.76)"/>
<path d="M575.51,30.21 L578.71,28.37 L587.31,29.23 L586.08,31.69 L576.74,32.18Z" fill="#fff" stroke="#000" stroke-width="0.7" stroke-linejoin="round" stroke-linecap="round"/>
<path d="M578.71,31.44 L583.87,32.18 L583.13,36.6 L577.97,35.62Z" fill="#fff" stroke="#000" stroke-width="0.7" stroke-linejoin="round" stroke-linecap="round"/>
<path d="M575.27,57.48 L580.43,58.46 L577.73,77.62 L572.57,76.76Z" fill="#A9E1EE" stroke="#000" stroke-width="0.95" stroke-linejoin="round" stroke-linecap="round"/>
<path d="M572.44,77.13 L577.48,77.87 L576.25,84.5 L572.81,83.89Z" fill="#F3B4D6" stroke="#000" stroke-width="0.95" stroke-linejoin="round" stroke-linecap="round"/>
<path d="M574.29,84.5 L570.6,102.19" fill="none" stroke="#000" stroke-width="1" stroke-linejoin="round" stroke-linecap="round"/>
<path d="M527.98,56.5 C529.31,55.27 533.2,51.79 535.97,49.13 C538.73,46.47 541.08,42.99 544.56,40.53 C548.04,38.07 552.75,35.72 556.85,34.39 C560.94,33.06 565.65,32.44 569.13,32.55 C572.61,32.65 574.45,34.18 577.73,35 C581,35.82 585.95,36.44 588.78,37.46 C591.6,38.48 593.79,39.98 594.67,41.14 C595.55,42.31 595.04,43.7 594.06,44.46 C593.08,45.22 590.48,45.77 588.78,45.69 C587.08,45.61 584.69,44.26 583.87,43.97" fill="none" stroke="#000" stroke-width="1" stroke-linejoin="round" stroke-linecap="round"/>
<path d="M563.97,39.3 C565.24,39.26 569.29,38.89 571.58,39.06 C573.88,39.22 575.58,39.32 577.73,40.28 C579.87,41.25 582.64,43.36 584.48,44.83 C586.32,46.3 587.82,47.59 588.78,49.13 C589.74,50.66 590.5,52.77 590.25,54.04 C590.01,55.31 588.21,56.54 587.31,56.74 C586.4,56.95 585.26,55.51 584.85,55.27" fill="none" stroke="#000" stroke-width="1" stroke-linejoin="round" stroke-linecap="round"/>
<path d="M565.44,46.43 C567.08,46.57 572.61,46.43 575.27,47.29 C577.93,48.15 579.67,50.05 581.41,51.58 C583.15,53.12 584.77,55.02 585.71,56.5 C586.65,57.97 587.37,59.49 587.06,60.43 C586.75,61.37 584.97,62.35 583.87,62.15 C582.76,61.94 581,59.69 580.43,59.2" fill="none" stroke="#000" stroke-width="1" stroke-linejoin="round" stroke-linecap="round"/>
<path d="M563.6,54.04 C564.52,54.29 567.39,54.49 569.13,55.51 C570.87,56.54 573.22,59.4 574.04,60.18" fill="none" stroke="#000" stroke-width="1.3" stroke-linejoin="round" stroke-linecap="round"/>
<path d="M539.65,79.83 C540.88,79.06 544.77,76.91 547.02,75.17 C549.27,73.43 551.52,71.17 553.16,69.39 C554.8,67.61 555.21,65.65 556.85,64.48 C558.48,63.31 560.94,62.49 562.99,62.39 C565.03,62.29 567.45,63.05 569.13,63.87 C570.81,64.69 572.4,66.73 573.06,67.31" fill="none" stroke="#000" stroke-width="1" stroke-linejoin="round" stroke-linecap="round"/>
<path d="M552.55,36.85 C552.28,38.89 550.54,45.24 550.95,49.13 C551.36,53.02 554.33,58.34 555,60.18" fill="none" stroke="#000" stroke-width="1" stroke-linejoin="round" stroke-linecap="round" stroke-dasharray="2.8 2.2"/>
<path d="M578.15,100.44 C578.51,101.77 579.68,106.07 580.36,108.42 C581.03,110.78 581.54,113.23 582.2,114.56 C582.85,115.89 583.94,116.1 584.29,116.41" fill="none" stroke="#000" stroke-width="0.95" stroke-linejoin="round" stroke-linecap="round"/>
<path d="M573.6,101.3 C573.19,102.18 572.07,104.27 571.14,106.58 C570.22,108.89 569,112.37 568.07,115.18 C567.15,117.98 566.44,121.26 565.62,123.41 C564.8,125.56 564.59,127.4 563.16,128.07 C561.73,128.75 558.76,127.77 557.02,127.46 C555.28,127.15 554.15,126.54 552.72,126.23 C551.29,125.92 549.75,125 548.42,125.62 C547.09,126.23 545.35,129.2 544.74,129.92" fill="none" stroke="#000" stroke-width="0.95" stroke-linejoin="round" stroke-linecap="round"/>
<path d="M545.35,130.53 C546.27,130.28 549.34,128.65 550.88,129.06 C552.41,129.47 552.93,132.09 554.56,132.99 C556.2,133.89 558.66,134.09 560.7,134.46 C562.75,134.83 565.82,135.07 566.85,135.2" fill="none" stroke="#000" stroke-width="0.95" stroke-linejoin="round" stroke-linecap="round"/>
<path d="M544.49,130.28 C544.19,129.88 545.62,127.38 546.58,126.6 C547.54,125.82 549.34,125.47 550.27,125.62 C551.19,125.76 552.41,126.89 552.11,127.46 C551.8,128.03 549.69,128.59 548.42,129.06 C547.15,129.53 544.8,130.69 544.49,130.28Z" fill="#333" stroke="none" stroke-width="0.9" stroke-linejoin="round" stroke-linecap="round"/>
<path d="M577.29,114.32 C577.59,114.73 578.37,116.61 579.13,116.77 C579.89,116.94 581.38,115.55 581.83,115.3" fill="none" stroke="#000" stroke-width="0.95" stroke-linejoin="round" stroke-linecap="round"/>
<circle cx="576.06" cy="99.58" r="1.5" fill="#222"/>
<circle cx="576.43" cy="109.41" r="1.25" fill="#451040"/>
<path d="M571.14,101.67 C570.02,101.97 566.54,102.69 564.39,103.51 C562.24,104.33 559.27,106.07 558.25,106.58" fill="none" stroke="#444" stroke-width="0.5" stroke-linejoin="round" stroke-linecap="round"/>
<path d="M570.53,103.26 C568.89,104.43 563.67,107.46 560.7,110.27 C557.74,113.07 554.05,118.45 552.72,120.09" fill="none" stroke="#444" stroke-width="0.5" stroke-linejoin="round" stroke-linecap="round"/>
<path d="M572.37,103.51 C571.86,104.53 570.33,107.5 569.3,109.65 C568.28,111.8 566.74,115.28 566.23,116.41" fill="none" stroke="#444" stroke-width="0.5" stroke-linejoin="round" stroke-linecap="round"/>
<path d="M577.9,99.21 L580.6,98.84" fill="none" stroke="#444" stroke-width="0.5" stroke-linejoin="round" stroke-linecap="round"/>
<path d="M562.18,136.67 C561.73,138.1 560.17,141.79 559.48,145.27 C558.78,148.75 558.31,152.43 558,157.55 C557.7,162.67 557.49,170.86 557.63,175.97 C557.78,181.09 558.41,184.88 558.86,188.26 C559.31,191.63 560.09,194.91 560.34,196.24" fill="none" stroke="#000" stroke-width="0.95" stroke-linejoin="round" stroke-linecap="round"/>
<path d="M587.11,157.31 C587.52,158.78 588.91,163.04 589.57,166.15 C590.22,169.26 590.84,172.7 591.04,175.97 C591.25,179.25 591.35,182.73 590.8,185.8 C590.24,188.87 588.75,191.53 587.73,194.4 C586.7,197.26 585.58,199.92 584.65,202.99 C583.73,206.06 582.87,210 582.2,212.82 C581.52,215.64 580.87,218.76 580.6,219.94" fill="none" stroke="#000" stroke-width="0.95" stroke-linejoin="round" stroke-linecap="round"/>
<path d="M562.92,188.87 C562.59,189.79 561.4,192.76 560.95,194.4 C560.5,196.03 560.34,197.98 560.21,198.7" fill="none" stroke="#000" stroke-width="0.95" stroke-linejoin="round" stroke-linecap="round"/>
<path d="M550.88,198.7 C551.6,198.39 553.85,196.96 555.18,196.85 C556.51,196.75 557.84,197.37 558.86,198.08 C559.89,198.8 560.5,199.72 561.32,201.15 C562.14,202.58 562.85,205.25 563.78,206.68 C564.7,208.11 565.52,208.93 566.85,209.75 C568.18,210.57 570.43,210.83 571.76,211.59 C573.09,212.35 574.32,213.84 574.83,214.29" fill="none" stroke="#000" stroke-width="0.95" stroke-linejoin="round" stroke-linecap="round"/>
<path d="M550.88,198.7 C551.29,199 552.21,200.13 553.34,200.54 C554.46,200.95 556.41,200.33 557.63,201.15 C558.86,201.97 559.48,204.02 560.7,205.45 C561.93,206.88 564.29,209.03 565,209.75" fill="none" stroke="#000" stroke-width="0.95" stroke-linejoin="round" stroke-linecap="round"/>
<path d="M565,205.45 C565.92,205.14 568.95,204.12 570.53,203.61 C572.11,203.1 573.81,202.58 574.46,202.38" fill="none" stroke="#000" stroke-width="0.95" stroke-linejoin="round" stroke-linecap="round"/>
<path d="M566.23,204.84 C566.33,205.35 566.33,207.09 566.85,207.91 C567.36,208.73 568.89,209.44 569.3,209.75" fill="none" stroke="#000" stroke-width="0.95" stroke-linejoin="round" stroke-linecap="round"/>
<path d="M551.49,199.06 C551.49,198.61 553.54,197.79 554.56,197.84 C555.59,197.88 557.63,198.86 557.63,199.31 C557.63,199.76 555.59,200.58 554.56,200.54 C553.54,200.5 551.49,199.51 551.49,199.06Z" fill="#444" stroke="none" stroke-width="0.9" stroke-linejoin="round" stroke-linecap="round"/>
<path d="M577.04,125.62 C577.29,124.8 577.35,121.83 578.51,120.7 C579.68,119.58 581.48,118.76 584.04,118.86 C586.6,118.97 590.59,120.19 593.87,121.32 C597.14,122.44 600.83,123.88 603.69,125.62 C606.56,127.36 608.6,129.1 611.06,131.76 C613.52,134.42 615.97,138 618.43,141.58 C620.89,145.17 624.57,151.31 625.8,153.25" fill="none" stroke="#000" stroke-width="1" stroke-linejoin="round" stroke-linecap="round"/>
<path d="M577.04,125.62 C577.8,125.86 579.8,126.99 581.58,127.09 C583.37,127.19 585.68,126.07 587.73,126.23 C589.77,126.4 591.98,127.28 593.87,128.07 C595.75,128.87 598.17,130.53 599.02,131.02" fill="none" stroke="#000" stroke-width="1" stroke-linejoin="round" stroke-linecap="round"/>
<path d="M584.04,145.88 C583.59,145.37 582.06,144.04 581.34,142.81 C580.62,141.58 579.6,139.78 579.74,138.51 C579.89,137.24 580.66,135.75 582.2,135.2 C583.73,134.65 586.8,134.75 588.95,135.2 C591.1,135.65 593.5,137 595.09,137.9 C596.69,138.8 597.96,140.15 598.53,140.6" fill="none" stroke="#000" stroke-width="1" stroke-linejoin="round" stroke-linecap="round"/>
<path d="M597.8,147.73 C597.14,147.77 595.34,148.07 593.87,147.97 C592.39,147.87 590.59,147.4 588.95,147.11 C587.32,146.82 585.11,145.84 584.04,146.25 C582.98,146.66 582.57,148.3 582.57,149.57 C582.57,150.84 583.18,152.64 584.04,153.87 C584.9,155.09 586.29,156.22 587.73,156.94 C589.16,157.65 591,157.24 592.64,158.17 C594.28,159.09 595.71,160.93 597.55,162.46 C599.39,164 601.75,166.05 603.69,167.38 C605.64,168.71 607.79,169.22 609.22,170.45 C610.65,171.68 611.78,174.03 612.29,174.75" fill="none" stroke="#000" stroke-width="1" stroke-linejoin="round" stroke-linecap="round"/>
<path d="M610.45,132.99 C610.14,134.42 609.22,139.09 608.6,141.58 C607.99,144.08 607.07,146.91 606.76,147.97" fill="none" stroke="#000" stroke-width="1" stroke-linejoin="round" stroke-linecap="round" stroke-dasharray="2.8 2.2"/>
<path d="M604.06,156.32 L600.62,158.29" fill="none" stroke="#000" stroke-width="1" stroke-linejoin="round" stroke-linecap="round"/>
<path d="M674.98,209.99 C674.92,211.42 674.59,214.29 674.61,218.58 C674.63,222.88 674.77,229.64 675.1,235.78 C675.43,241.92 676.25,248.63 676.58,255.43 C676.9,262.23 676.99,273.03 677.07,276.56 L676.08,275.08 C675.67,272.22 674.41,264.03 673.63,257.89 C672.85,251.75 671.99,244.17 671.42,238.24 C670.84,232.3 670.48,226.98 670.19,222.27 C669.9,217.56 669.78,212.03 669.7,209.99Z" fill="#F6F1E0" stroke="none" stroke-width="0.9" stroke-linejoin="round" stroke-linecap="round"/>
<path d="M674.98,209.99 C674.92,211.42 674.59,214.29 674.61,218.58 C674.63,222.88 674.77,229.64 675.1,235.78 C675.43,241.92 676.25,248.63 676.58,255.43 C676.9,262.23 676.99,273.03 677.07,276.56" fill="none" stroke="#000" stroke-width="0.9" stroke-linejoin="round" stroke-linecap="round"/>
<path d="M676.08,275.08 C675.67,272.22 674.41,264.03 673.63,257.89 C672.85,251.75 671.99,244.17 671.42,238.24 C670.84,232.3 670.48,226.98 670.19,222.27 C669.9,217.56 669.78,212.03 669.7,209.99" fill="none" stroke="#000" stroke-width="0.9" stroke-linejoin="round" stroke-linecap="round"/>
<path d="M676.89,5.6 C676.69,7.44 676.07,12.97 675.66,16.65 C675.25,20.34 674.64,25.86 674.44,27.7" fill="none" stroke="#222" stroke-width="0.7" stroke-linejoin="round" stroke-linecap="round"/>
<path d="M680.33,5.6 C680.13,7.44 679.55,12.97 679.1,16.65 C678.65,20.34 677.88,25.86 677.63,27.7" fill="none" stroke="#222" stroke-width="0.7" stroke-linejoin="round" stroke-linecap="round"/>
<ellipse cx="678.73" cy="3.76" rx="4" ry="2" fill="#fff" stroke="#111" stroke-width="0.8" transform="rotate(-6 678.73 3.76)"/>
<path d="M670.01,27.21 L673.21,25.37 L681.81,26.23 L680.58,28.69 L671.24,29.18Z" fill="#fff" stroke="#000" stroke-width="0.7" stroke-linejoin="round" stroke-linecap="round"/>
<path d="M673.21,28.44 L678.37,29.18 L677.63,33.6 L672.47,32.62Z" fill="#fff" stroke="#000" stroke-width="0.7" stroke-linejoin="round" stroke-linecap="round"/>
<path d="M669.77,54.48 L674.93,55.46 L672.23,74.62 L667.07,73.76Z" fill="#A9E1EE" stroke="#000" stroke-width="0.95" stroke-linejoin="round" stroke-linecap="round"/>
<path d="M666.94,74.13 L671.98,74.87 L670.75,81.5 L667.31,80.89Z" fill="#F3B4D6" stroke="#000" stroke-width="0.95" stroke-linejoin="round" stroke-linecap="round"/>
<path d="M668.79,81.5 L665.1,99.19" fill="none" stroke="#000" stroke-width="1" stroke-linejoin="round" stroke-linecap="round"/>
<path d="M622.48,53.5 C623.81,52.27 627.7,48.79 630.47,46.13 C633.23,43.47 635.58,39.99 639.06,37.53 C642.54,35.07 647.25,32.72 651.35,31.39 C655.44,30.06 660.15,29.44 663.63,29.55 C667.11,29.65 668.95,31.18 672.23,32 C675.5,32.82 680.45,33.44 683.28,34.46 C686.1,35.48 688.29,36.98 689.17,38.14 C690.05,39.31 689.54,40.7 688.56,41.46 C687.58,42.22 684.98,42.77 683.28,42.69 C681.58,42.61 679.19,41.26 678.37,40.97" fill="none" stroke="#000" stroke-width="1" stroke-linejoin="round" stroke-linecap="round"/>
<path d="M658.47,36.3 C659.74,36.26 663.79,35.89 666.08,36.06 C668.38,36.22 670.08,36.32 672.23,37.28 C674.37,38.25 677.14,40.36 678.98,41.83 C680.82,43.3 682.32,44.59 683.28,46.13 C684.24,47.66 685,49.77 684.75,51.04 C684.51,52.31 682.71,53.54 681.81,53.74 C680.9,53.95 679.76,52.51 679.35,52.27" fill="none" stroke="#000" stroke-width="1" stroke-linejoin="round" stroke-linecap="round"/>
<path d="M659.94,43.43 C661.58,43.57 667.11,43.43 669.77,44.29 C672.43,45.15 674.17,47.05 675.91,48.58 C677.65,50.12 679.27,52.02 680.21,53.5 C681.15,54.97 681.87,56.49 681.56,57.43 C681.25,58.37 679.47,59.35 678.37,59.15 C677.26,58.94 675.5,56.69 674.93,56.2" fill="none" stroke="#000" stroke-width="1" stroke-linejoin="round" stroke-linecap="round"/>
<path d="M658.1,51.04 C659.02,51.29 661.89,51.49 663.63,52.51 C665.37,53.54 667.72,56.4 668.54,57.18" fill="none" stroke="#000" stroke-width="1.3" stroke-linejoin="round" stroke-linecap="round"/>
<path d="M634.15,76.83 C635.38,76.06 639.27,73.91 641.52,72.17 C643.77,70.43 646.02,68.17 647.66,66.39 C649.3,64.61 649.71,62.65 651.35,61.48 C652.98,60.31 655.44,59.49 657.49,59.39 C659.53,59.29 661.95,60.05 663.63,60.87 C665.31,61.69 666.9,63.73 667.56,64.31" fill="none" stroke="#000" stroke-width="1" stroke-linejoin="round" stroke-linecap="round"/>
<path d="M647.05,33.85 C646.78,35.89 645.04,42.24 645.45,46.13 C645.86,50.02 648.83,55.34 649.5,57.18" fill="none" stroke="#000" stroke-width="1" stroke-linejoin="round" stroke-linecap="round" stroke-dasharray="2.8 2.2"/>
<path d="M672.65,97.44 C673.01,98.77 674.18,103.07 674.86,105.42 C675.53,107.78 676.04,110.23 676.7,111.56 C677.35,112.89 678.44,113.1 678.79,113.41" fill="none" stroke="#000" stroke-width="0.95" stroke-linejoin="round" stroke-linecap="round"/>
<path d="M668.1,98.3 C667.69,99.18 666.57,101.27 665.64,103.58 C664.72,105.89 663.5,109.37 662.57,112.18 C661.65,114.98 660.94,118.26 660.12,120.41 C659.3,122.56 659.09,124.4 657.66,125.07 C656.23,125.75 653.26,124.77 651.52,124.46 C649.78,124.15 648.65,123.54 647.22,123.23 C645.79,122.92 644.25,122 642.92,122.62 C641.59,123.23 639.85,126.2 639.24,126.92" fill="none" stroke="#000" stroke-width="0.95" stroke-linejoin="round" stroke-linecap="round"/>
<path d="M639.85,127.53 C640.77,127.28 643.84,125.65 645.38,126.06 C646.91,126.47 647.43,129.09 649.06,129.99 C650.7,130.89 653.16,131.09 655.2,131.46 C657.25,131.83 660.32,132.07 661.35,132.2" fill="none" stroke="#000" stroke-width="0.95" stroke-linejoin="round" stroke-linecap="round"/>
<path d="M638.99,127.28 C638.69,126.88 640.12,124.38 641.08,123.6 C642.04,122.82 643.84,122.47 644.77,122.62 C645.69,122.76 646.91,123.89 646.61,124.46 C646.3,125.03 644.19,125.59 642.92,126.06 C641.65,126.53 639.3,127.69 638.99,127.28Z" fill="#333" stroke="none" stroke-width="0.9" stroke-linejoin="round" stroke-linecap="round"/>
<path d="M671.79,111.32 C672.09,111.73 672.87,113.61 673.63,113.77 C674.39,113.94 675.88,112.55 676.33,112.3" fill="none" stroke="#000" stroke-width="0.95" stroke-linejoin="round" stroke-linecap="round"/>
<circle cx="670.56" cy="96.58" r="1.5" fill="#222"/>
<circle cx="670.93" cy="106.41" r="1.25" fill="#451040"/>
<path d="M665.64,98.67 C664.52,98.97 661.04,99.69 658.89,100.51 C656.74,101.33 653.77,103.07 652.75,103.58" fill="none" stroke="#444" stroke-width="0.5" stroke-linejoin="round" stroke-linecap="round"/>
<path d="M665.03,100.26 C663.39,101.43 658.17,104.46 655.2,107.27 C652.24,110.07 648.55,115.45 647.22,117.09" fill="none" stroke="#444" stroke-width="0.5" stroke-linejoin="round" stroke-linecap="round"/>
<path d="M666.87,100.51 C666.36,101.53 664.83,104.5 663.8,106.65 C662.78,108.8 661.24,112.28 660.73,113.41" fill="none" stroke="#444" stroke-width="0.5" stroke-linejoin="round" stroke-linecap="round"/>
<path d="M672.4,96.21 L675.1,95.84" fill="none" stroke="#444" stroke-width="0.5" stroke-linejoin="round" stroke-linecap="round"/>
<path d="M656.68,133.67 C656.23,135.1 654.67,138.79 653.98,142.27 C653.28,145.75 652.81,149.43 652.5,154.55 C652.2,159.67 651.99,167.86 652.13,172.97 C652.28,178.09 652.91,181.88 653.36,185.26 C653.81,188.63 654.59,191.91 654.84,193.24" fill="none" stroke="#000" stroke-width="0.95" stroke-linejoin="round" stroke-linecap="round"/>
<path d="M681.61,154.31 C682.02,155.78 683.41,160.04 684.07,163.15 C684.72,166.26 685.34,169.7 685.54,172.97 C685.75,176.25 685.85,179.73 685.3,182.8 C684.74,185.87 683.25,188.53 682.23,191.4 C681.2,194.26 680.08,196.92 679.15,199.99 C678.23,203.06 677.37,207 676.7,209.82 C676.02,212.64 675.37,215.76 675.1,216.94" fill="none" stroke="#000" stroke-width="0.95" stroke-linejoin="round" stroke-linecap="round"/>
<path d="M657.42,185.87 C657.09,186.79 655.9,189.76 655.45,191.4 C655,193.03 654.84,194.98 654.71,195.7" fill="none" stroke="#000" stroke-width="0.95" stroke-linejoin="round" stroke-linecap="round"/>
<path d="M645.38,195.7 C646.1,195.39 648.35,193.96 649.68,193.85 C651.01,193.75 652.34,194.37 653.36,195.08 C654.39,195.8 655,196.72 655.82,198.15 C656.64,199.58 657.35,202.25 658.28,203.68 C659.2,205.11 660.02,205.93 661.35,206.75 C662.68,207.57 664.93,207.83 666.26,208.59 C667.59,209.35 668.82,210.84 669.33,211.29" fill="none" stroke="#000" stroke-width="0.95" stroke-linejoin="round" stroke-linecap="round"/>
<path d="M645.38,195.7 C645.79,196 646.71,197.13 647.84,197.54 C648.96,197.95 650.91,197.33 652.13,198.15 C653.36,198.97 653.98,201.02 655.2,202.45 C656.43,203.88 658.79,206.03 659.5,206.75" fill="none" stroke="#000" stroke-width="0.95" stroke-linejoin="round" stroke-linecap="round"/>
<path d="M659.5,202.45 C660.42,202.14 663.45,201.12 665.03,200.61 C666.61,200.1 668.31,199.58 668.96,199.38" fill="none" stroke="#000" stroke-width="0.95" stroke-linejoin="round" stroke-linecap="round"/>
<path d="M660.73,201.84 C660.83,202.35 660.83,204.09 661.35,204.91 C661.86,205.73 663.39,206.44 663.8,206.75" fill="none" stroke="#000" stroke-width="0.95" stroke-linejoin="round" stroke-linecap="round"/>
<path d="M645.99,196.06 C645.99,195.61 648.04,194.79 649.06,194.84 C650.09,194.88 652.13,195.86 652.13,196.31 C652.13,196.76 650.09,197.58 649.06,197.54 C648.04,197.5 645.99,196.51 645.99,196.06Z" fill="#444" stroke="none" stroke-width="0.9" stroke-linejoin="round" stroke-linecap="round"/>
<path d="M671.54,122.62 C671.79,121.8 671.85,118.83 673.01,117.7 C674.18,116.58 675.98,115.76 678.54,115.86 C681.1,115.97 685.09,117.19 688.37,118.32 C691.64,119.44 695.33,120.88 698.19,122.62 C701.06,124.36 703.1,126.1 705.56,128.76 C708.02,131.42 710.47,135 712.93,138.58 C715.39,142.17 719.07,148.31 720.3,150.25" fill="none" stroke="#000" stroke-width="1" stroke-linejoin="round" stroke-linecap="round"/>
<path d="M671.54,122.62 C672.3,122.86 674.3,123.99 676.08,124.09 C677.87,124.19 680.18,123.07 682.23,123.23 C684.27,123.4 686.48,124.28 688.37,125.07 C690.25,125.87 692.67,127.53 693.52,128.02" fill="none" stroke="#000" stroke-width="1" stroke-linejoin="round" stroke-linecap="round"/>
<path d="M678.54,142.88 C678.09,142.37 676.56,141.04 675.84,139.81 C675.12,138.58 674.1,136.78 674.24,135.51 C674.39,134.24 675.16,132.75 676.7,132.2 C678.23,131.65 681.3,131.75 683.45,132.2 C685.6,132.65 688,134 689.59,134.9 C691.19,135.8 692.46,137.15 693.03,137.6" fill="none" stroke="#000" stroke-width="1" stroke-linejoin="round" stroke-linecap="round"/>
<path d="M692.3,144.73 C691.64,144.77 689.84,145.07 688.37,144.97 C686.89,144.87 685.09,144.4 683.45,144.11 C681.82,143.82 679.61,142.84 678.54,143.25 C677.48,143.66 677.07,145.3 677.07,146.57 C677.07,147.84 677.68,149.64 678.54,150.87 C679.4,152.09 680.79,153.22 682.23,153.94 C683.66,154.65 685.5,154.24 687.14,155.17 C688.78,156.09 690.21,157.93 692.05,159.46 C693.89,161 696.25,163.05 698.19,164.38 C700.14,165.71 702.29,166.22 703.72,167.45 C705.15,168.68 706.28,171.03 706.79,171.75" fill="none" stroke="#000" stroke-width="1" stroke-linejoin="round" stroke-linecap="round"/>
<path d="M704.95,129.99 C704.64,131.42 703.72,136.09 703.1,138.58 C702.49,141.08 701.57,143.91 701.26,144.97" fill="none" stroke="#000" stroke-width="1" stroke-linejoin="round" stroke-linecap="round" stroke-dasharray="2.8 2.2"/>
<path d="M698.56,153.32 L695.12,155.29" fill="none" stroke="#000" stroke-width="1" stroke-linejoin="round" stroke-linecap="round"/>
<path d="M753.48,211.99 C753.42,213.42 753.09,216.29 753.11,220.58 C753.13,224.88 753.27,231.64 753.6,237.78 C753.93,243.92 754.75,250.63 755.08,257.43 C755.4,264.23 755.49,275.03 755.57,278.56 L754.58,277.08 C754.17,274.22 752.91,266.03 752.13,259.89 C751.35,253.75 750.49,246.17 749.92,240.24 C749.34,234.3 748.98,228.98 748.69,224.27 C748.4,219.56 748.28,214.03 748.2,211.99Z" fill="#F6F1E0" stroke="none" stroke-width="0.9" stroke-linejoin="round" stroke-linecap="round"/>
<path d="M753.48,211.99 C753.42,213.42 753.09,216.29 753.11,220.58 C753.13,224.88 753.27,231.64 753.6,237.78 C753.93,243.92 754.75,250.63 755.08,257.43 C755.4,264.23 755.49,275.03 755.57,278.56" fill="none" stroke="#000" stroke-width="0.9" stroke-linejoin="round" stroke-linecap="round"/>
<path d="M754.58,277.08 C754.17,274.22 752.91,266.03 752.13,259.89 C751.35,253.75 750.49,246.17 749.92,240.24 C749.34,234.3 748.98,228.98 748.69,224.27 C748.4,219.56 748.28,214.03 748.2,211.99" fill="none" stroke="#000" stroke-width="0.9" stroke-linejoin="round" stroke-linecap="round"/>
<path d="M755.39,7.6 C755.19,9.44 754.57,14.97 754.16,18.65 C753.75,22.34 753.14,27.86 752.94,29.7" fill="none" stroke="#222" stroke-width="0.7" stroke-linejoin="round" stroke-linecap="round"/>
<path d="M758.83,7.6 C758.63,9.44 758.05,14.97 757.6,18.65 C757.15,22.34 756.38,27.86 756.13,29.7" fill="none" stroke="#222" stroke-width="0.7" stroke-linejoin="round" stroke-linecap="round"/>
<ellipse cx="757.23" cy="5.76" rx="4" ry="2" fill="#fff" stroke="#111" stroke-width="0.8" transform="rotate(-6 757.23 5.76)"/>
<path d="M748.51,29.21 L751.71,27.37 L760.31,28.23 L759.08,30.69 L749.74,31.18Z" fill="#fff" stroke="#000" stroke-width="0.7" stroke-linejoin="round" stroke-linecap="round"/>
<path d="M751.71,30.44 L756.87,31.18 L756.13,35.6 L750.97,34.62Z" fill="#fff" stroke="#000" stroke-width="0.7" stroke-linejoin="round" stroke-linecap="round"/>
<path d="M748.27,56.48 L753.43,57.46 L750.73,76.62 L745.57,75.76Z" fill="#A9E1EE" stroke="#000" stroke-width="0.95" stroke-linejoin="round" stroke-linecap="round"/>
<path d="M745.44,76.13 L750.48,76.87 L749.25,83.5 L745.81,82.89Z" fill="#F3B4D6" stroke="#000" stroke-width="0.95" stroke-linejoin="round" stroke-linecap="round"/>
<path d="M747.29,83.5 L743.6,101.19" fill="none" stroke="#000" stroke-width="1" stroke-linejoin="round" stroke-linecap="round"/>
<path d="M700.98,55.5 C702.31,54.27 706.2,50.79 708.97,48.13 C711.73,45.47 714.08,41.99 717.56,39.53 C721.04,37.07 725.75,34.72 729.85,33.39 C733.94,32.06 738.65,31.44 742.13,31.55 C745.61,31.65 747.45,33.18 750.73,34 C754,34.82 758.95,35.44 761.78,36.46 C764.6,37.48 766.79,38.98 767.67,40.14 C768.55,41.31 768.04,42.7 767.06,43.46 C766.08,44.22 763.48,44.77 761.78,44.69 C760.08,44.61 757.69,43.26 756.87,42.97" fill="none" stroke="#000" stroke-width="1" stroke-linejoin="round" stroke-linecap="round"/>
<path d="M736.97,38.3 C738.24,38.26 742.29,37.89 744.58,38.06 C746.88,38.22 748.58,38.32 750.73,39.28 C752.87,40.25 755.64,42.36 757.48,43.83 C759.32,45.3 760.82,46.59 761.78,48.13 C762.74,49.66 763.5,51.77 763.25,53.04 C763.01,54.31 761.21,55.54 760.31,55.74 C759.4,55.95 758.26,54.51 757.85,54.27" fill="none" stroke="#000" stroke-width="1" stroke-linejoin="round" stroke-linecap="round"/>
<path d="M738.44,45.43 C740.08,45.57 745.61,45.43 748.27,46.29 C750.93,47.15 752.67,49.05 754.41,50.58 C756.15,52.12 757.77,54.02 758.71,55.5 C759.65,56.97 760.37,58.49 760.06,59.43 C759.75,60.37 757.97,61.35 756.87,61.15 C755.76,60.94 754,58.69 753.43,58.2" fill="none" stroke="#000" stroke-width="1" stroke-linejoin="round" stroke-linecap="round"/>
<path d="M736.6,53.04 C737.52,53.29 740.39,53.49 742.13,54.51 C743.87,55.54 746.22,58.4 747.04,59.18" fill="none" stroke="#000" stroke-width="1.3" stroke-linejoin="round" stroke-linecap="round"/>
<path d="M712.65,78.83 C713.88,78.06 717.77,75.91 720.02,74.17 C722.27,72.43 724.52,70.17 726.16,68.39 C727.8,66.61 728.21,64.65 729.85,63.48 C731.48,62.31 733.94,61.49 735.99,61.39 C738.03,61.29 740.45,62.05 742.13,62.87 C743.81,63.69 745.4,65.73 746.06,66.31" fill="none" stroke="#000" stroke-width="1" stroke-linejoin="round" stroke-linecap="round"/>
<path d="M725.55,35.85 C725.28,37.89 723.54,44.24 723.95,48.13 C724.36,52.02 727.33,57.34 728,59.18" fill="none" stroke="#000" stroke-width="1" stroke-linejoin="round" stroke-linecap="round" stroke-dasharray="2.8 2.2"/>
<path d="M751.15,99.44 C751.51,100.77 752.68,105.07 753.36,107.42 C754.03,109.78 754.54,112.23 755.2,113.56 C755.85,114.89 756.94,115.1 757.29,115.41" fill="none" stroke="#000" stroke-width="0.95" stroke-linejoin="round" stroke-linecap="round"/>
<path d="M746.6,100.3 C746.19,101.18 745.07,103.27 744.14,105.58 C743.22,107.89 742,111.37 741.07,114.18 C740.15,116.98 739.44,120.26 738.62,122.41 C737.8,124.56 737.59,126.4 736.16,127.07 C734.73,127.75 731.76,126.77 730.02,126.46 C728.28,126.15 727.15,125.54 725.72,125.23 C724.29,124.92 722.75,124 721.42,124.62 C720.09,125.23 718.35,128.2 717.74,128.92" fill="none" stroke="#000" stroke-width="0.95" stroke-linejoin="round" stroke-linecap="round"/>
<path d="M718.35,129.53 C719.27,129.28 722.34,127.65 723.88,128.06 C725.41,128.47 725.93,131.09 727.56,131.99 C729.2,132.89 731.66,133.09 733.7,133.46 C735.75,133.83 738.82,134.07 739.85,134.2" fill="none" stroke="#000" stroke-width="0.95" stroke-linejoin="round" stroke-linecap="round"/>
<path d="M717.49,129.28 C717.19,128.88 718.62,126.38 719.58,125.6 C720.54,124.82 722.34,124.47 723.27,124.62 C724.19,124.76 725.41,125.89 725.11,126.46 C724.8,127.03 722.69,127.59 721.42,128.06 C720.15,128.53 717.8,129.69 717.49,129.28Z" fill="#333" stroke="none" stroke-width="0.9" stroke-linejoin="round" stroke-linecap="round"/>
<path d="M750.29,113.32 C750.59,113.73 751.37,115.61 752.13,115.77 C752.89,115.94 754.38,114.55 754.83,114.3" fill="none" stroke="#000" stroke-width="0.95" stroke-linejoin="round" stroke-linecap="round"/>
<circle cx="749.06" cy="98.58" r="1.5" fill="#222"/>
<circle cx="749.43" cy="108.41" r="1.25" fill="#451040"/>
<path d="M744.14,100.67 C743.02,100.97 739.54,101.69 737.39,102.51 C735.24,103.33 732.27,105.07 731.25,105.58" fill="none" stroke="#444" stroke-width="0.5" stroke-linejoin="round" stroke-linecap="round"/>
<path d="M743.53,102.26 C741.89,103.43 736.67,106.46 733.7,109.27 C730.74,112.07 727.05,117.45 725.72,119.09" fill="none" stroke="#444" stroke-width="0.5" stroke-linejoin="round" stroke-linecap="round"/>
<path d="M745.37,102.51 C744.86,103.53 743.33,106.5 742.3,108.65 C741.28,110.8 739.74,114.28 739.23,115.41" fill="none" stroke="#444" stroke-width="0.5" stroke-linejoin="round" stroke-linecap="round"/>
<path d="M750.9,98.21 L753.6,97.84" fill="none" stroke="#444" stroke-width="0.5" stroke-linejoin="round" stroke-linecap="round"/>
<path d="M735.18,135.67 C734.73,137.1 733.17,140.79 732.48,144.27 C731.78,147.75 731.31,151.43 731,156.55 C730.7,161.67 730.49,169.86 730.63,174.97 C730.78,180.09 731.41,183.88 731.86,187.26 C732.31,190.63 733.09,193.91 733.34,195.24" fill="none" stroke="#000" stroke-width="0.95" stroke-linejoin="round" stroke-linecap="round"/>
<path d="M760.11,156.31 C760.52,157.78 761.91,162.04 762.57,165.15 C763.22,168.26 763.84,171.7 764.04,174.97 C764.25,178.25 764.35,181.73 763.8,184.8 C763.24,187.87 761.75,190.53 760.73,193.4 C759.7,196.26 758.58,198.92 757.65,201.99 C756.73,205.06 755.87,209 755.2,211.82 C754.52,214.64 753.87,217.76 753.6,218.94" fill="none" stroke="#000" stroke-width="0.95" stroke-linejoin="round" stroke-linecap="round"/>
<path d="M735.92,187.87 C735.59,188.79 734.4,191.76 733.95,193.4 C733.5,195.03 733.34,196.98 733.21,197.7" fill="none" stroke="#000" stroke-width="0.95" stroke-linejoin="round" stroke-linecap="round"/>
<path d="M723.88,197.7 C724.6,197.39 726.85,195.96 728.18,195.85 C729.51,195.75 730.84,196.37 731.86,197.08 C732.89,197.8 733.5,198.72 734.32,200.15 C735.14,201.58 735.85,204.25 736.78,205.68 C737.7,207.11 738.52,207.93 739.85,208.75 C741.18,209.57 743.43,209.83 744.76,210.59 C746.09,211.35 747.32,212.84 747.83,213.29" fill="none" stroke="#000" stroke-width="0.95" stroke-linejoin="round" stroke-linecap="round"/>
<path d="M723.88,197.7 C724.29,198 725.21,199.13 726.34,199.54 C727.46,199.95 729.41,199.33 730.63,200.15 C731.86,200.97 732.48,203.02 733.7,204.45 C734.93,205.88 737.29,208.03 738,208.75" fill="none" stroke="#000" stroke-width="0.95" stroke-linejoin="round" stroke-linecap="round"/>
<path d="M738,204.45 C738.92,204.14 741.95,203.12 743.53,202.61 C745.11,202.1 746.81,201.58 747.46,201.38" fill="none" stroke="#000" stroke-width="0.95" stroke-linejoin="round" stroke-linecap="round"/>
<path d="M739.23,203.84 C739.33,204.35 739.33,206.09 739.85,206.91 C740.36,207.73 741.89,208.44 742.3,208.75" fill="none" stroke="#000" stroke-width="0.95" stroke-linejoin="round" stroke-linecap="round"/>
<path d="M724.49,198.06 C724.49,197.61 726.54,196.79 727.56,196.84 C728.59,196.88 730.63,197.86 730.63,198.31 C730.63,198.76 728.59,199.58 727.56,199.54 C726.54,199.5 724.49,198.51 724.49,198.06Z" fill="#444" stroke="none" stroke-width="0.9" stroke-linejoin="round" stroke-linecap="round"/>
<path d="M750.04,124.62 C750.29,123.8 750.35,120.83 751.51,119.7 C752.68,118.58 754.48,117.76 757.04,117.86 C759.6,117.97 763.59,119.19 766.87,120.32 C770.14,121.44 773.83,122.88 776.69,124.62 C779.56,126.36 781.6,128.1 784.06,130.76 C786.52,133.42 788.97,137 791.43,140.58 C793.89,144.17 797.57,150.31 798.8,152.25" fill="none" stroke="#000" stroke-width="1" stroke-linejoin="round" stroke-linecap="round"/>
<path d="M750.04,124.62 C750.8,124.86 752.8,125.99 754.58,126.09 C756.37,126.19 758.68,125.07 760.73,125.23 C762.77,125.4 764.98,126.28 766.87,127.07 C768.75,127.87 771.17,129.53 772.02,130.02" fill="none" stroke="#000" stroke-width="1" stroke-linejoin="round" stroke-linecap="round"/>
<path d="M757.04,144.88 C756.59,144.37 755.06,143.04 754.34,141.81 C753.62,140.58 752.6,138.78 752.74,137.51 C752.89,136.24 753.66,134.75 755.2,134.2 C756.73,133.65 759.8,133.75 761.95,134.2 C764.1,134.65 766.5,136 768.09,136.9 C769.69,137.8 770.96,139.15 771.53,139.6" fill="none" stroke="#000" stroke-width="1" stroke-linejoin="round" stroke-linecap="round"/>
<path d="M770.8,146.73 C770.14,146.77 768.34,147.07 766.87,146.97 C765.39,146.87 763.59,146.4 761.95,146.11 C760.32,145.82 758.11,144.84 757.04,145.25 C755.98,145.66 755.57,147.3 755.57,148.57 C755.57,149.84 756.18,151.64 757.04,152.87 C757.9,154.09 759.29,155.22 760.73,155.94 C762.16,156.65 764,156.24 765.64,157.17 C767.28,158.09 768.71,159.93 770.55,161.46 C772.39,163 774.75,165.05 776.69,166.38 C778.64,167.71 780.79,168.22 782.22,169.45 C783.65,170.68 784.78,173.03 785.29,173.75" fill="none" stroke="#000" stroke-width="1" stroke-linejoin="round" stroke-linecap="round"/>
<path d="M783.45,131.99 C783.14,133.42 782.22,138.09 781.6,140.58 C780.99,143.08 780.07,145.91 779.76,146.97" fill="none" stroke="#000" stroke-width="1" stroke-linejoin="round" stroke-linecap="round" stroke-dasharray="2.8 2.2"/>
<path d="M777.06,155.32 L773.62,157.29" fill="none" stroke="#000" stroke-width="1" stroke-linejoin="round" stroke-linecap="round"/>
<text x="585.6" y="275.3" font-size="17.6" stroke="#000" stroke-width="0.3">3h</text>
<text x="646.4" y="275.3" font-size="17.6" stroke="#000" stroke-width="0.3">1d</text>
<text x="725" y="275.3" font-size="17.6" stroke="#000" stroke-width="0.3">2d</text>
<ellipse cx="193.4" cy="291.4" rx="10.6" ry="10.4" fill="#fff" stroke="#000" stroke-width="1.15"/>
<text x="193.4" y="298.66" font-size="18.5" text-anchor="middle" textLength="11.47" lengthAdjust="spacingAndGlyphs" stroke="#000" stroke-width="0.3">1</text>
<ellipse cx="563.8" cy="290.4" rx="10.6" ry="10.4" fill="#fff" stroke="#000" stroke-width="1.15"/>
<text x="563.8" y="297.66" font-size="18.5" text-anchor="middle" textLength="11.47" lengthAdjust="spacingAndGlyphs" stroke="#000" stroke-width="0.3">2</text>
<polygon points="583.3,281.7 591.9,291.7 588.05,291.7 588.05,303.7 578.55,303.7 578.55,291.7 574.7,291.7" fill="#ED7D31"/>
<polygon points="676.7,280.3 685.9,290.3 681.55,290.3 681.55,299.5 671.85,299.5 671.85,290.3 667.5,290.3" fill="#ED7D31"/>
<polygon points="755.8,281.7 764.7,291.3 760.55,291.3 760.55,300.9 751.05,300.9 751.05,291.3 746.9,291.3" fill="#ED7D31"/>
<rect x="570.8" y="303" width="28.7" height="30.8" fill="#000"/>
<rect x="658.7" y="303.8" width="28.3" height="27.5" fill="#000"/>
<rect x="739.5" y="303.8" width="28.8" height="29.5" fill="#000"/>
<text x="574.2" y="326.7" font-size="19.6" fill="#fff" stroke="#fff" stroke-width="0.3">1</text>
<text x="585.1" y="321.3" font-size="11.6" fill="#fff" stroke="#fff" stroke-width="0.3">st</text>
<text x="660.6" y="328" font-size="19.6" fill="#fff" stroke="#fff" stroke-width="0.3">2</text>
<text x="671.2" y="322.5" font-size="11.6" fill="#fff" stroke="#fff" stroke-width="0.3">nd</text>
<text x="742.6" y="326.7" font-size="19.6" fill="#fff" stroke="#fff" stroke-width="0.3">3</text>
<text x="753.3" y="322" font-size="11.6" fill="#fff" stroke="#fff" stroke-width="0.3">rd</text>
<ellipse cx="919.8" cy="106.3" rx="10.6" ry="10.4" fill="#fff" stroke="#000" stroke-width="1.15"/>
<text x="919.8" y="113.56" font-size="18.5" text-anchor="middle" textLength="11.47" lengthAdjust="spacingAndGlyphs" stroke="#000" stroke-width="0.3">1</text>
<ellipse cx="919.8" cy="133.3" rx="10.6" ry="10.4" fill="#fff" stroke="#000" stroke-width="1.15"/>
<text x="919.8" y="140.56" font-size="18.5" text-anchor="middle" textLength="11.47" lengthAdjust="spacingAndGlyphs" stroke="#000" stroke-width="0.3">2</text>
<text x="936.8" y="112.5" font-size="21.6" textLength="77.5" lengthAdjust="spacingAndGlyphs" stroke="#000" stroke-width="0.3">Casting</text>
<text x="936.8" y="140" font-size="21.6" textLength="134" lengthAdjust="spacingAndGlyphs" stroke="#000" stroke-width="0.3">Cast removal</text>
<polygon points="918.7,149.2 927.9,158.3 923.9,158.3 923.9,167.5 913.5,167.5 913.5,158.3 909.5,158.3" fill="#ED7D31"/>
<text x="932.8" y="167.5" font-size="21.6" textLength="433.7" lengthAdjust="spacingAndGlyphs" stroke="#000" stroke-width="0.3">Repeated P.O. administration of duloxetine</text>
<text x="908.4" y="195" font-size="21.6" textLength="126" lengthAdjust="spacingAndGlyphs" stroke="#000" stroke-width="0.3">(once a day)</text>
</g>
</svg>
</body></html>
